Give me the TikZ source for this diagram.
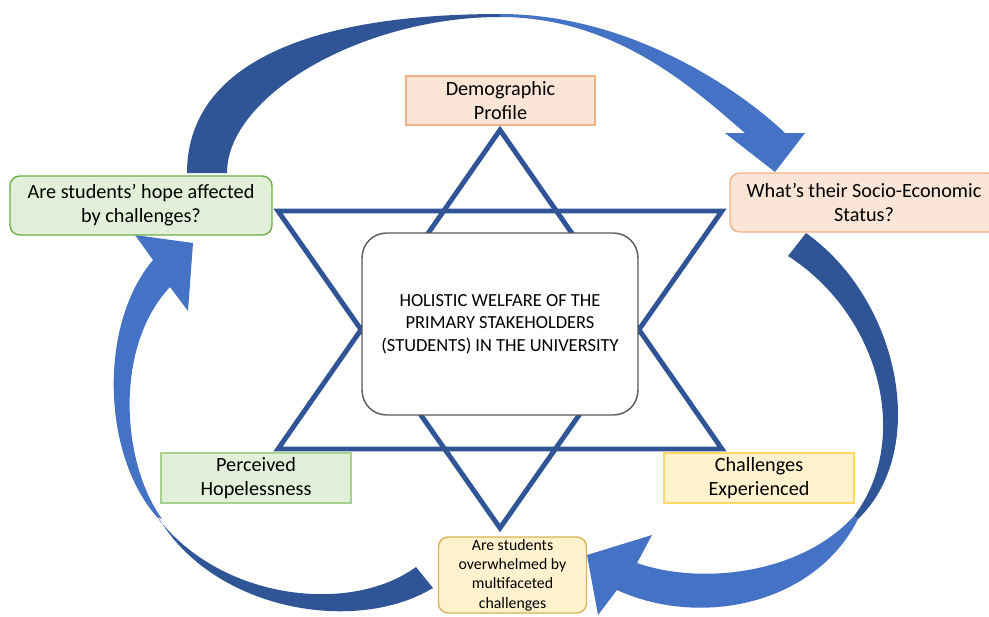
\documentclass[tikz,border=0pt]{standalone}
\usepackage{fontspec}
\setmainfont{Carlito}
\usepackage{tikz}

\definecolor{stardeep}{HTML}{2F5597}
\definecolor{arrowback}{HTML}{2F5597}
\definecolor{arrowfront}{HTML}{4472C4}
\definecolor{peachfill}{HTML}{FBE5D6}
\definecolor{peachline}{HTML}{F4B183}
\definecolor{greenfill}{HTML}{E2F0D9}
\definecolor{greenline}{HTML}{70AD47}
\definecolor{greenpale}{HTML}{A9D18E}
\definecolor{goldfill}{HTML}{FFF2CC}
\definecolor{goldline}{HTML}{FFD966}
\definecolor{goldedge}{HTML}{D6B656}
\definecolor{frameline}{HTML}{595959}

\begin{document}
\begin{tikzpicture}[x=0.02cm, y=-0.02cm,
  factor/.style={align=center, inner sep=0pt, line width=0.8pt,
    font=\fontsize{11.5}{13.6}\selectfont},
  question/.style={factor, rounded corners=5.5pt}]
  \useasboundingbox (0,0) rectangle (989,616);

  % Star of two triangles
  \draw[stardeep, line width=2.8pt, line join=miter] (500,130) -- (278,449) -- (722,449) -- cycle;
  \draw[stardeep, line width=2.8pt, line join=miter] (278,211) -- (722,211) -- (500,528) -- cycle;

  % Centre box
  \node[draw=frameline, fill=white, line width=0.8pt, rounded corners=14pt,
        minimum width=5.52cm, minimum height=3.64cm, align=center,
        font=\fontsize{10.5}{12.7}\selectfont] (welfare) at (500,324)
        {HOLISTIC WELFARE OF THE\\PRIMARY STAKEHOLDERS\\(STUDENTS) IN THE UNIVERSITY};

  % Top arrow (back then front)
  \fill[arrowback] (187,173) .. controls (187,70) and (297,14) .. (500,14) -- (500,17)
    .. controls (363,17) and (227,95) .. (227,173) -- cycle;
  \fill[arrowfront] (500,14) .. controls (630,14) and (740,90) .. (785,133) -- (805,133)
    -- (775,172) -- (725,133) -- (745,133) .. controls (700,95) and (620,17) .. (500,17) -- cycle;

  % Right arrow
  \fill[arrowback] (806,233) .. controls (900,300) and (930,450) .. (858,519) -- (854,516)
    .. controls (912,440) and (880,315) .. (788,256) -- cycle;
  \fill[arrowfront] (858,519) .. controls (815,605) and (700,628) .. (617,590) -- (598,615)
    -- (587,555) -- (652,535) -- (637,563) .. controls (700,585) and (800,575) .. (854,516) -- cycle;

  % Left arrow
  \fill[arrowback] (433,588) .. controls (355,635) and (215,610) .. (160,520) -- (157,517)
    .. controls (220,600) and (350,615) .. (416,567) -- cycle;
  \fill[arrowfront] (157,517) .. controls (102,455) and (98,325) .. (153,260) -- (135,235)
    -- (193,243) -- (188,311) -- (170,287) .. controls (115,345) and (120,460) .. (162,519) -- cycle;

  % Factor boxes round the star
  \node[factor, draw=peachline, fill=peachfill, minimum width=3.78cm, minimum height=0.98cm]
    (demo) at (500.5,100.5) {Demographic\\Profile};
  \node[factor, draw=greenpale, fill=greenfill, minimum width=3.8cm, minimum height=1.0cm]
    (hopeless) at (256,478) {Perceived\\Hopelessness};
  \node[factor, draw=goldline, fill=goldfill, minimum width=3.8cm, minimum height=1.0cm]
    (challenges) at (759,478) {Challenges\\Experienced};

  % Question boxes on the loop
  \node[question, draw=peachline, fill=peachfill, minimum width=5.36cm, minimum height=1.18cm]
    (status) at (864,202.5) {What’s their Socio-Economic\\Status?};
  \node[question, draw=greenline, fill=greenfill, minimum width=5.24cm, minimum height=1.18cm]
    (hope) at (141,205.5) {Are students’ hope affected\\by challenges?};
  \node[question, draw=goldedge, fill=goldfill, minimum width=2.96cm, minimum height=1.52cm,
        font=\fontsize{9}{11}\selectfont]
    (overwhelmed) at (512.5,575) {Are students\\overwhelmed by\\multifaceted\\challenges};
\end{tikzpicture}
\end{document}
